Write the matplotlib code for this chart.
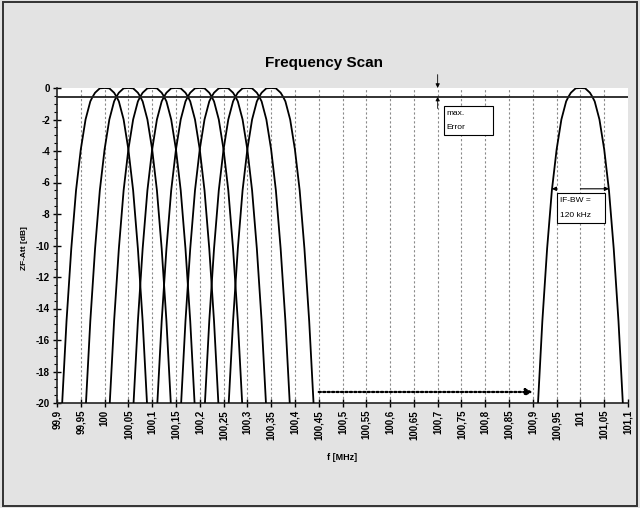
import matplotlib; matplotlib.use("Agg")
import matplotlib.pyplot as plt
import matplotlib.patches as mpatches
import matplotlib.ticker as ticker

plt.rcParams["font.family"] = ["Liberation Sans", "DejaVu Sans"]
plt.rcParams["font.weight"] = "bold"

# filter centres (MHz) of the scan steps plus the lone one at 101 MHz
CENTERS = [100.0, 100.05, 100.1, 100.15, 100.2, 100.25, 100.3, 100.35, 101.0]

# IF filter response: offset from centre (MHz) -> attenuation (dB)
PROFILE_DF = [-0.10, -0.09, -0.08, -0.07, -0.06, -0.05, -0.04, -0.03, -0.025, -0.02, -0.01, 0.0,
              0.01, 0.02, 0.025, 0.03, 0.04, 0.05, 0.06, 0.07, 0.08, 0.09, 0.10]
PROFILE_DB = [-26.0, -20.5, -14.8, -10.2, -6.5, -3.9, -2.0, -0.85, -0.55, -0.3, -0.02, 0.0,
              -0.02, -0.3, -0.55, -0.85, -2.0, -3.9, -6.5, -10.2, -14.8, -20.5, -26.0]

XTICKS = [99.9, 99.95, 100.0, 100.05, 100.1, 100.15, 100.2, 100.25, 100.3, 100.35, 100.4,
          100.45, 100.5, 100.55, 100.6, 100.65, 100.7, 100.75, 100.8, 100.85, 100.9,
          100.95, 101.0, 101.05, 101.1]
XLABELS = ["99,9", "99,95", "100", "100,05", "100,1", "100,15", "100,2", "100,25", "100,3",
           "100,35", "100,4", "100,45", "100,5", "100,55", "100,6", "100,65", "100,7",
           "100,75", "100,8", "100,85", "100,9", "100,95", "101", "101,05", "101,1"]
YTICKS = [0, -2, -4, -6, -8, -10, -12, -14, -16, -18, -20]

MAX_ERR = -0.55          # dB, ripple line
ERR_X = 100.7
BW_DB = -6.4
BW_LEFT, BW_RIGHT = 100.94, 101.06
SCAN_FROM, SCAN_TO, SCAN_DB = 100.45, 100.9, -19.3

BG = "#e3e3e3"

fig = plt.figure(figsize=(6.4, 5.08), dpi=100, facecolor=BG)
fig.patches.append(mpatches.Rectangle((0.005, 0.004), 0.99, 0.992, transform=fig.transFigure,
                                      fill=False, edgecolor="#333333", linewidth=1.4))

ax = fig.add_axes([57/640, 105/508, 571/640, 315/508])
ax.set_facecolor("white")

for c in CENTERS:
    ax.plot([c + d for d in PROFILE_DF], PROFILE_DB, color="black", lw=1.3, zorder=3)

ax.axhline(MAX_ERR, color="#222222", lw=1.3, zorder=4)

ax.set_xlim(99.9, 101.1)
ax.set_ylim(-20, 0)

ax.set_xticks(XTICKS)
ax.set_xticklabels(XLABELS, rotation=90, fontsize=7, fontweight="bold")
ax.set_yticks(YTICKS)
ax.set_yticklabels([str(v) for v in YTICKS], fontsize=7, fontweight="bold")
ax.yaxis.set_minor_locator(ticker.MultipleLocator(0.5))
ax.tick_params(axis="both", which="major", direction="inout", length=6, width=1, pad=2)
ax.tick_params(axis="y", which="minor", direction="out", length=2.5, width=0.8)

for xv in XTICKS[1:-1]:
    ax.axvline(xv, color="#8a8a8a", lw=0.8, linestyle=(0, (2, 2)), zorder=1)

for s in ("top", "right"):
    ax.spines[s].set_visible(False)
for s in ("left", "bottom"):
    ax.spines[s].set_linewidth(1.2)
    ax.spines[s].set_color("#222222")


def label_box(x0, x1, y0, y1, lines):
    ax.add_patch(mpatches.Rectangle((x0, y1), x1 - x0, y0 - y1, facecolor="white",
                                    edgecolor="black", lw=0.8, zorder=6))
    step = (y0 - y1) / (len(lines) + 0.1)
    for i, t in enumerate(lines):
        ax.text(x0 + 0.006, y0 - step * (i + 0.55), t, fontsize=6, fontweight="normal",
                va="center", ha="left", zorder=7)


# max. error dimension arrows
ax.annotate("", xy=(ERR_X, 0), xytext=(ERR_X, 0.85), annotation_clip=False,
            arrowprops=dict(arrowstyle="-|>", color="black", lw=0.6, mutation_scale=6,
                            shrinkA=0, shrinkB=0))
ax.annotate("", xy=(ERR_X, MAX_ERR), xytext=(ERR_X, -1.3),
            arrowprops=dict(arrowstyle="-|>", color="black", lw=0.6, mutation_scale=6,
                            shrinkA=0, shrinkB=0))
label_box(100.713, 100.816, -1.14, -2.98, ["max.", "Error"])

# IF bandwidth arrows
ax.annotate("", xy=(BW_RIGHT, BW_DB), xytext=(101.0, BW_DB),
            arrowprops=dict(arrowstyle="-|>", color="black", lw=0.8, mutation_scale=6,
                            shrinkA=0, shrinkB=0))
ax.annotate("", xy=(BW_LEFT, BW_DB), xytext=(BW_LEFT + 0.006, BW_DB),
            arrowprops=dict(arrowstyle="-|>", color="black", lw=0.8, mutation_scale=6,
                            shrinkA=0, shrinkB=0))
label_box(100.951, 101.052, -6.67, -8.57, ["IF-BW =", "120 kHz"])

# scan gap arrow
ax.annotate("", xy=(SCAN_TO, SCAN_DB), xytext=(SCAN_FROM, SCAN_DB),
            arrowprops=dict(arrowstyle="-|>", color="black", lw=1.6, linestyle=(0, (1, 1)),
                            mutation_scale=10, shrinkA=0, shrinkB=0))

fig.text(324/640, 1 - 63/508, "Frequency Scan", ha="center", va="center",
         fontsize=11, fontweight="bold")
fig.text(342/640, 1 - 458/508, "f [MHz]", ha="center", va="center", fontsize=6.5, fontweight="bold")
fig.text(25/640, 1 - 248/508, "ZF-Att [dB]", ha="center", va="center", rotation=90,
         fontsize=6, fontweight="bold")

fig.savefig("out.png", dpi=100, facecolor=BG)
